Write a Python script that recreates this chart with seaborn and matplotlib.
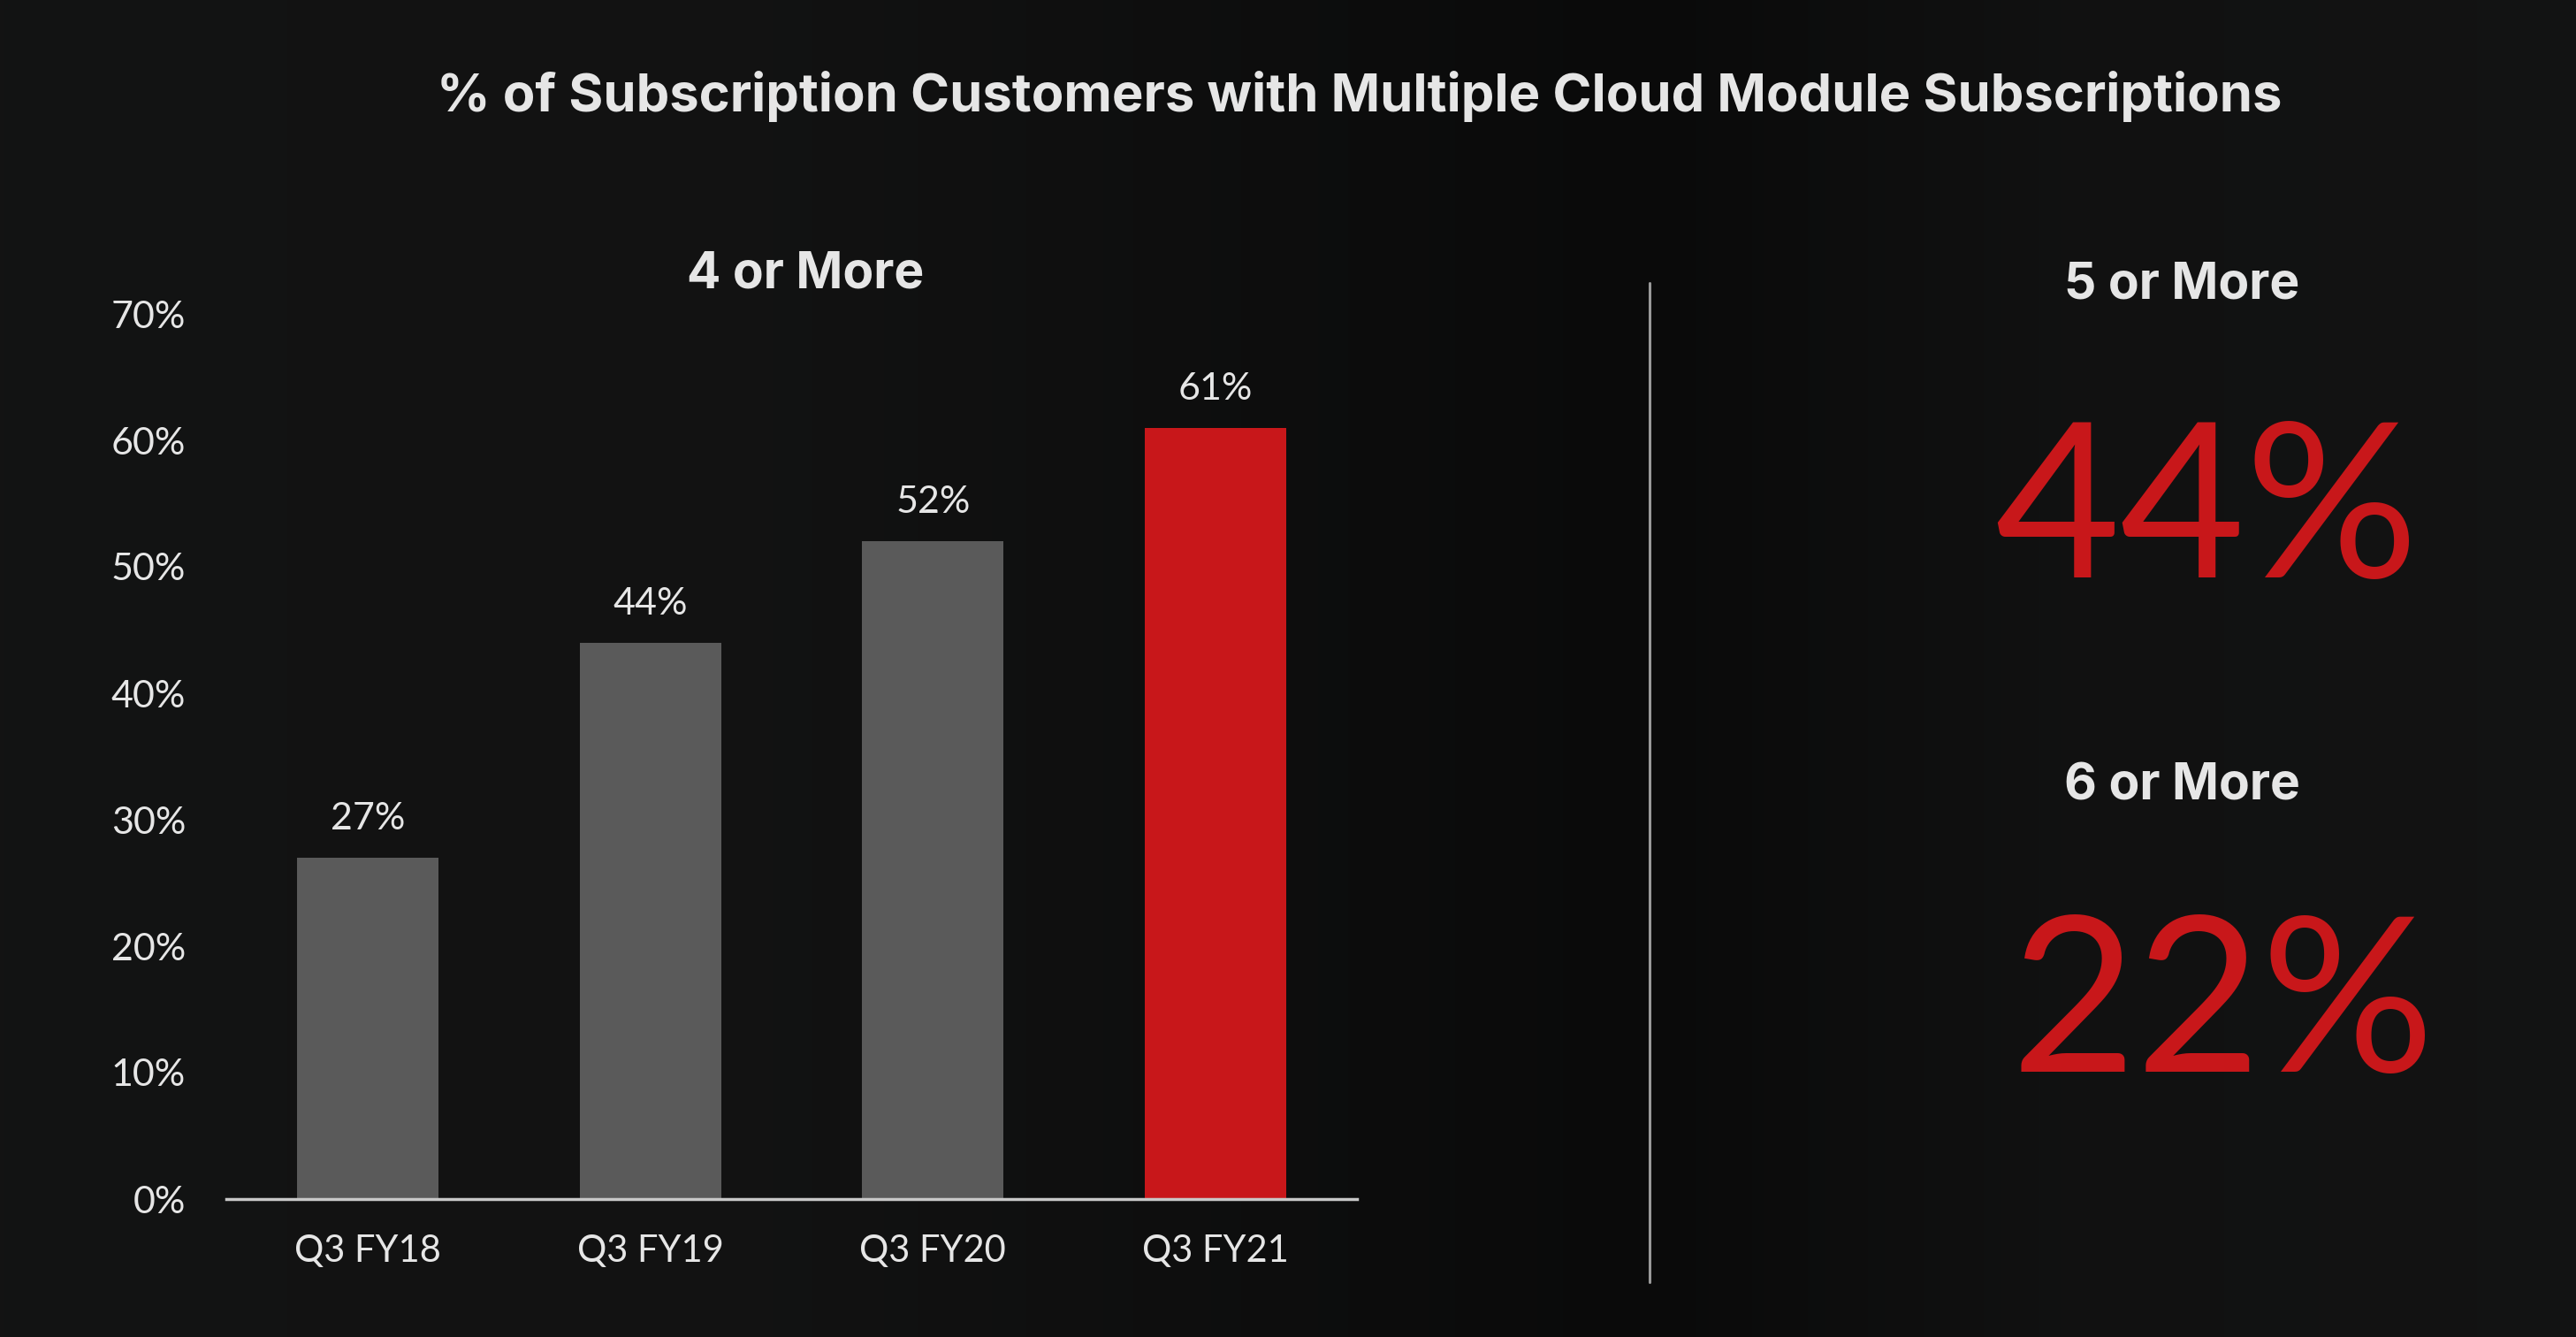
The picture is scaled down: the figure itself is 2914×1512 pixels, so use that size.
import numpy as np
import pandas as pd
import matplotlib
matplotlib.use("Agg")
import matplotlib.pyplot as plt
import seaborn as sns

# ---- data ----
quarters = ["Q3 FY18", "Q3 FY19", "Q3 FY20", "Q3 FY21"]
four_or_more = [27, 44, 52, 61]
bar_colors = ["#5a5a5a", "#5a5a5a", "#5a5a5a", "#c8171a"]
y_ticks = [0, 10, 20, 30, 40, 50, 60, 70]
y_tick_labels = ["0%", "10%", "20%", "30%", "40%", "50%", "60%", "70%"]
side_labels = ["5 or More", "6 or More"]
side_values = ["44%", "22%"]
title = "% of Subscription Customers with Multiple Cloud Module Subscriptions"
subtitle = "4 or More"

W, H = 2914, 1512
DPI = 100
TXT = "#e6e6e6"
RED = "#c8171a"
BOLD_FONT = ["Inter", "Lato", "DejaVu Sans"]

sns.set_theme(style="white")
plt.rcParams["font.family"] = ["Lato", "DejaVu Sans"]

fig = plt.figure(figsize=(W / DPI, H / DPI), dpi=DPI)

# background gradient
bg = fig.add_axes([0, 0, 1, 1], zorder=-10)
xs = np.linspace(0, 1, 600)
lv = np.interp(xs, [0, 0.3, 0.64, 0.8, 1.0], [19, 18, 10, 17, 19]) / 255.0
grad = np.dstack([lv, lv * 1.02, lv * 1.02])
grad = np.clip(grad, 0, 1)
bg.imshow(grad, aspect="auto", extent=[0, 1, 0, 1])
bg.set_axis_off()

# main bar axes
left, right = 256 / W, 1535 / W
bottom, top = 1 - 1356 / H, 1 - 355 / H
ax = fig.add_axes([left, bottom, right - left, top - bottom])
ax.set_facecolor("none")

df = pd.DataFrame({"quarter": quarters, "value": four_or_more})
sns.barplot(data=df, x="quarter", y="value", hue="quarter", palette=bar_colors,
            width=0.5, saturation=1, legend=False, ax=ax, edgecolor="none")

ax.set_xlim(-0.5, 3.5)
ax.set_ylim(0, 70)
ax.set_yticks(y_ticks)
ax.set_yticklabels(y_tick_labels)
ax.set_xlabel("")
ax.set_ylabel("")
for s in ["top", "right", "left"]:
    ax.spines[s].set_visible(False)
ax.spines["bottom"].set_color("#c8c8c8")
ax.spines["bottom"].set_linewidth(2.5)
ax.tick_params(axis="y", length=0, pad=33, labelsize=31, labelcolor=TXT)
ax.tick_params(axis="x", length=0, pad=29, labelsize=30, labelcolor=TXT)
ax.grid(False)

for i, v in enumerate(four_or_more):
    ax.annotate(f"{v}%", xy=(i, v), xytext=(0, 23), textcoords="offset points",
                ha="center", va="baseline", fontsize=31, color=TXT)

# titles
fig.text(1538 / W, 1 - 126 / H, title, ha="center", va="baseline",
         fontsize=43, fontweight="bold", color=TXT, family=BOLD_FONT)
fig.text(911 / W, 1 - 325 / H, subtitle, ha="center", va="baseline",
         fontsize=41, fontweight="bold", color=TXT, family=BOLD_FONT)

# separator
fig.add_artist(plt.Line2D([1866 / W, 1866 / W], [1 - 320 / H, 1 - 1450 / H],
                          color="#9a9a9a", linewidth=2.2))

# right side stats
sub_y = [338, 905]
val_x = [2496, 2514]
val_y = [653, 1212]
for lab, val, sy, vx, vy in zip(side_labels, side_values, sub_y, val_x, val_y):
    fig.text(2468 / W, 1 - sy / H, lab, ha="center", va="baseline",
             fontsize=41, fontweight="bold", color=TXT, family=BOLD_FONT)
    fig.text(vx / W, 1 - vy / H, val, ha="center", va="baseline",
             fontsize=176, color=RED)

fig.savefig("out.png", dpi=DPI, facecolor="#121313")
